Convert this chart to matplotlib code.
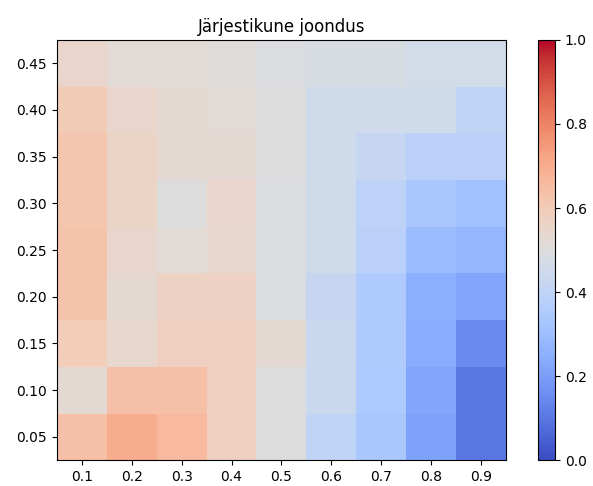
import numpy as np
import matplotlib
matplotlib.use("Agg")
import matplotlib.pyplot as plt

# Grid values
x_vals = [0.1, 0.2, 0.3, 0.4, 0.5, 0.6, 0.7, 0.8, 0.9]
y_vals = [0.05, 0.10, 0.15, 0.20, 0.25, 0.30, 0.35, 0.40, 0.45]

# one row per y value (bottom to top), one column per x value
scores = np.array([
    [0.64, 0.70, 0.66, 0.58, 0.50, 0.40, 0.33, 0.21, 0.10],
    [0.53, 0.64, 0.64, 0.58, 0.50, 0.43, 0.34, 0.22, 0.10],
    [0.59, 0.54, 0.58, 0.58, 0.53, 0.43, 0.35, 0.24, 0.15],
    [0.63, 0.53, 0.57, 0.57, 0.49, 0.42, 0.35, 0.25, 0.22],
    [0.63, 0.55, 0.52, 0.54, 0.49, 0.45, 0.38, 0.29, 0.27],
    [0.62, 0.56, 0.50, 0.55, 0.49, 0.45, 0.39, 0.33, 0.31],
    [0.62, 0.56, 0.53, 0.53, 0.50, 0.45, 0.42, 0.38, 0.38],
    [0.60, 0.55, 0.53, 0.52, 0.50, 0.45, 0.45, 0.45, 0.40],
    [0.55, 0.52, 0.52, 0.51, 0.49, 0.48, 0.48, 0.46, 0.46],
])

x = np.array(x_vals)
y = np.array(y_vals)
dx = x[1] - x[0]
dy = y[1] - y[0]
x_edges = np.append(x - dx / 2, x[-1] + dx / 2)
y_edges = np.append(y - dy / 2, y[-1] + dy / 2)

fig = plt.figure(figsize=(5.93, 4.86), dpi=100)
ax = fig.add_axes([0.096, 0.053, 0.757, 0.865])
cax = fig.add_axes([0.907, 0.053, 0.029, 0.865])

mesh = ax.pcolormesh(x_edges, y_edges, scores, cmap="coolwarm", vmin=0, vmax=1)
ax.set_xticks(x_vals)
ax.set_yticks(y_vals)
ax.set_xticklabels([f"{v:.1f}" for v in x_vals])
ax.set_yticklabels([f"{v:.2f}" for v in y_vals])
ax.set_title("Järjestikune joondus")

fig.colorbar(mesh, cax=cax)

fig.savefig("out.png", dpi=100)
